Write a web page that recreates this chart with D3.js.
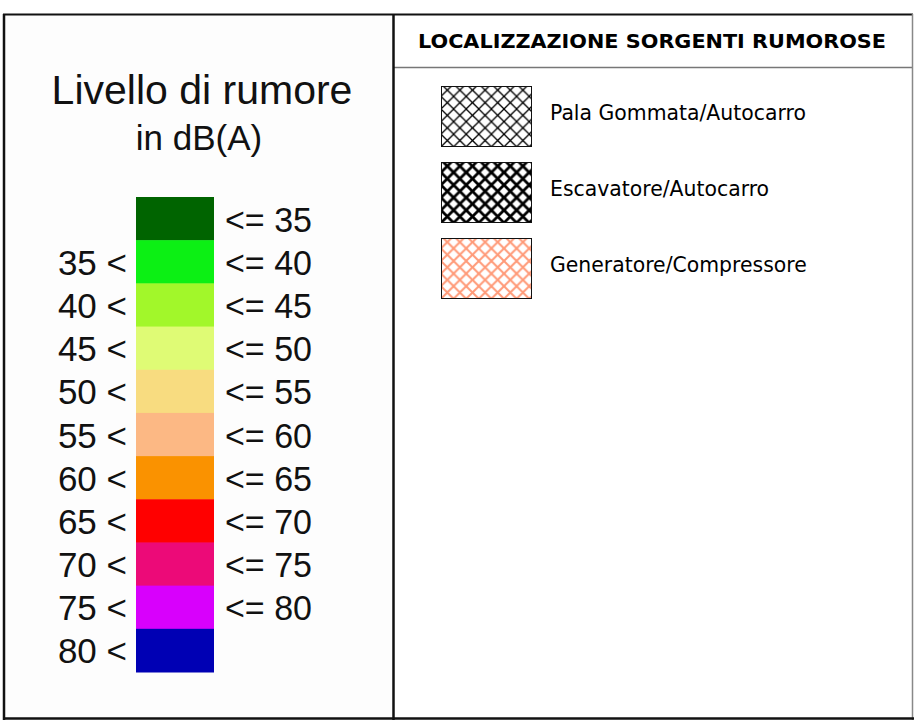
<!DOCTYPE html>
<html>
<head>
<meta charset="utf-8">
<script src="https://cdn.jsdelivr.net/npm/d3@7/dist/d3.min.js"></script>
<style>
  body { margin: 0; background: #fff; }
  svg { display: block; }
</style>
</head>
<body>
<div id="chart"></div>
<script>
// noise level classes (dB(A)), one colour per class
const thresholds = [35, 40, 45, 50, 55, 60, 65, 70, 75, 80];
const bandColors = ["#006400", "#0cf014", "#a2f72a", "#dffb75", "#f8dc80", "#fcb884",
                    "#fa9200", "#ff0000", "#ec0a78", "#d800fc", "#0000b4"];
const panelTitle = ["Livello di rumore", "in dB(A)"];

// noise sources legend
const sourceTitle = "LOCALIZZAZIONE SORGENTI RUMOROSE";
const sourceNames = ["Pala Gommata/Autocarro", "Escavatore/Autocarro", "Generatore/Compressore"];

const width = 914, height = 723;

const svg = d3.select("#chart").append("svg")
    .attr("width", width)
    .attr("height", height);

const defs = svg.append("defs");

// hatch patterns for the sources
const hatchStyles = [
    { color: "#000", width: 1.3 },
    { color: "#000", width: 2.8 },
    { color: "#ff9a78", width: 2 }
];
const hatch = 12.6;
hatchStyles.forEach((s, i) => {
    const p = defs.append("pattern")
        .attr("id", "hatch" + i)
        .attr("patternUnits", "userSpaceOnUse")
        .attr("x", 441).attr("y", 86)
        .attr("width", hatch).attr("height", hatch);
    p.append("rect").attr("width", hatch).attr("height", hatch).attr("fill", "#fff");
    [[0, 0, hatch, hatch], [0, hatch, hatch, 0],
     [-hatch / 2, hatch / 2, hatch / 2, -hatch / 2], [hatch / 2, hatch * 1.5, hatch * 1.5, hatch / 2],
     [-hatch / 2, hatch / 2, hatch / 2, hatch * 1.5], [hatch / 2, -hatch / 2, hatch * 1.5, hatch / 2]]
        .forEach(d => {
            p.append("line")
                .attr("x1", d[0]).attr("y1", d[1])
                .attr("x2", d[2]).attr("y2", d[3])
                .attr("stroke", s.color)
                .attr("stroke-width", s.width);
        });
});

// ---- left panel: colour scale ----
svg.append("rect")
    .attr("x", 4).attr("y", 15)
    .attr("width", 389).attr("height", 703)
    .attr("fill", "#fdfdfd");

const left = svg.append("g")
    .style("font-family", "'Liberation Sans', Arial, sans-serif")
    .attr("fill", "#111");

left.append("text")
    .attr("x", 202).attr("y", 104)
    .attr("text-anchor", "middle")
    .style("font-size", "41px")
    .text(panelTitle[0]);

left.append("text")
    .attr("x", 199).attr("y", 150)
    .attr("text-anchor", "middle")
    .style("font-size", "35px")
    .text(panelTitle[1]);

const y = d3.scaleBand()
    .domain(d3.range(bandColors.length))
    .range([197, 672])
    .padding(0);

left.selectAll("rect.band")
    .data(bandColors)
    .join("rect")
    .attr("class", "band")
    .attr("x", 136)
    .attr("y", (d, i) => y(i))
    .attr("width", 78)
    .attr("height", y.bandwidth() + 0.5)
    .attr("fill", d => d);

// lower bounds on the left (class i+1 starts above thresholds[i])
left.selectAll("text.lower")
    .data(thresholds)
    .join("text")
    .attr("class", "lower")
    .attr("x", 127)
    .attr("y", (d, i) => y(i + 1) + y.bandwidth() / 2 + 13)
    .attr("text-anchor", "end")
    .style("font-size", "35px")
    .text(d => d + " <");

// upper bounds on the right
left.selectAll("text.upper")
    .data(thresholds)
    .join("text")
    .attr("class", "upper")
    .attr("x", 225)
    .attr("y", (d, i) => y(i) + y.bandwidth() / 2 + 13)
    .style("font-size", "35px")
    .attr("textLength", 87)
    .attr("lengthAdjust", "spacingAndGlyphs")
    .text(d => "<= " + d);

// ---- right panel: sources legend ----
const right = svg.append("g")
    .style("font-family", "'DejaVu Sans', Verdana, sans-serif")
    .attr("fill", "#000");

right.append("text")
    .attr("x", 652).attr("y", 48)
    .attr("text-anchor", "middle")
    .style("font-size", "20px")
    .style("font-weight", "bold")
    .attr("textLength", 468)
    .attr("lengthAdjust", "spacingAndGlyphs")
    .text(sourceTitle);

const ys = d3.scalePoint()
    .domain(sourceNames)
    .range([86, 238]);

const item = right.selectAll("g.item")
    .data(sourceNames)
    .join("g")
    .attr("class", "item")
    .attr("transform", d => `translate(0,${ys(d)})`);

item.append("rect")
    .attr("x", 441.5).attr("y", 0.5)
    .attr("width", 90).attr("height", 60)
    .attr("fill", (d, i) => `url(#hatch${i})`)
    .attr("stroke", "#111")
    .attr("stroke-width", 1);

item.append("text")
    .attr("x", 550)
    .attr("y", 34)
    .style("font-size", "20.4px")
    .text(d => d);

// ---- frame ----
const frame = svg.append("g").attr("fill", "none");
frame.append("line").attr("x1", 3).attr("x2", 913).attr("y1", 14.5).attr("y2", 14.5)
    .attr("stroke", "#111").attr("stroke-width", 2);
frame.append("line").attr("x1", 393).attr("x2", 912).attr("y1", 67.5).attr("y2", 67.5)
    .attr("stroke", "#777").attr("stroke-width", 1.5);
frame.append("line").attr("x1", 4).attr("x2", 4).attr("y1", 14).attr("y2", 720)
    .attr("stroke", "#111").attr("stroke-width", 2.5);
frame.append("line").attr("x1", 393.5).attr("x2", 393.5).attr("y1", 14).attr("y2", 720)
    .attr("stroke", "#111").attr("stroke-width", 2.5);
frame.append("line").attr("x1", 912.5).attr("x2", 912.5).attr("y1", 14).attr("y2", 720)
    .attr("stroke", "#888").attr("stroke-width", 1.5);
frame.append("line").attr("x1", 3).attr("x2", 914).attr("y1", 718.5).attr("y2", 718.5)
    .attr("stroke", "#111").attr("stroke-width", 2.5);
</script>
</body>
</html>
